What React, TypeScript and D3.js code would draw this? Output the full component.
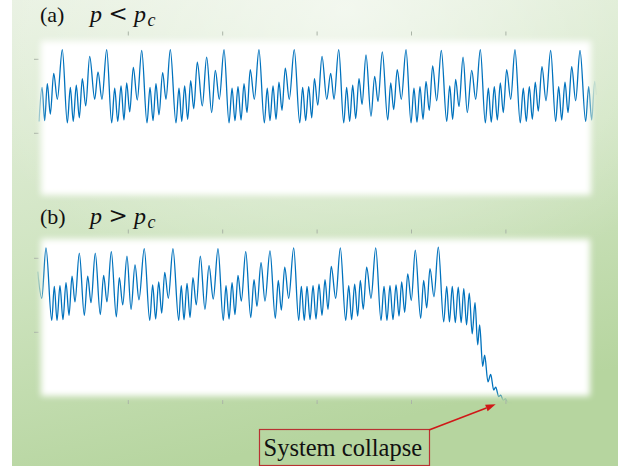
import React from 'react';
import * as d3 from 'd3';

// ---- Panel (a): p < p_c  — extrema ----
const timeA = [
  5.4, 8.6, 11.4, 14.2, 17.4, 21.0, 24.8, 30.1, 35.4, 38.6, 41.7, 44.9, 48.1, 51.3, 54.9, 59.1, 64.4, 67.9, 72.1, 77.1,
  82.4, 85.6, 88.8, 92.3, 95.4, 98.3, 101.5, 105.3, 109.5, 114.2, 119.8, 123.0, 126.2, 129.3, 132.5, 136.4, 139.9, 144.5,
  150.5, 153.7, 156.6, 159.7, 162.9, 166.1, 169.3, 173.1, 178.4, 183.0, 188.3, 192.2, 196.4, 201.4, 206.7, 209.9, 213.0,
  216.2, 219.4, 222.6, 225.7, 229.2, 233.5, 238.4, 244.1, 247.2, 250.1, 253.3, 256.5, 259.6, 262.8, 266.3, 270.5, 275.8,
  281.6, 284.7, 287.9, 291.1, 294.3, 297.2, 300.7, 305.2, 310.2, 314.4, 317.9, 322.9, 328.2, 331.3, 334.5, 337.7, 340.9,
  344.4, 347.6, 351.8, 357.1, 361.0, 364.5, 369.1, 374.8, 378.0, 381.1, 384.9, 389.2, 394.2, 399.5, 402.6, 405.8, 409.0,
  412.2, 415.4, 418.8, 422.4, 426.7, 431.6, 437.3, 440.5, 443.6, 446.8, 450.3, 454.6, 459.1, 463.8, 468.0, 472.9, 478.2,
  481.4, 484.5, 487.7, 490.9, 494.1, 497.2, 500.8, 505.1, 509.6, 515.2, 518.4, 521.6, 524.8, 528.0, 531.1, 534.3, 538.2,
  542.5, 547.4, 552.7, 555.9, 559.1, 562.6, 565.8, 569.7, 573.9, 578.5, 584.5, 587.7, 590.9, 594.1, 596.0,
];
const valueA = [
  0.16, 0.62, 0.17, 0.67, 0.26, 0.81, 0.46, 1.13, 0.14, 0.62, 0.16, 0.65, 0.21, 0.74, 0.37, 1.04, 0.46, 0.83, 0.46, 1.13,
  0.14, 0.61, 0.16, 0.64, 0.18, 0.68, 0.29, 0.89, 0.45, 1.12, 0.14, 0.62, 0.17, 0.67, 0.25, 0.82, 0.46, 1.13,
  0.14, 0.61, 0.16, 0.64, 0.19, 0.71, 0.33, 0.96, 0.37, 1.03, 0.28, 0.85, 0.46, 1.13, 0.14, 0.61, 0.17,
  0.63, 0.18, 0.67, 0.28, 0.86, 0.46, 1.13, 0.14, 0.61, 0.17, 0.64, 0.19, 0.69, 0.31, 0.88, 0.46, 1.13,
  0.14, 0.62, 0.17, 0.63, 0.21, 0.74, 0.38, 1.04, 0.46, 0.81, 0.46, 1.13, 0.14, 0.62, 0.16, 0.65, 0.20,
  0.74, 0.39, 1.06, 0.23, 0.77, 0.43, 1.10, 0.18, 0.68, 0.32, 0.86, 0.46, 1.13, 0.14, 0.61, 0.15, 0.63,
  0.19, 0.70, 0.31, 0.91, 0.44, 1.12, 0.16, 0.64, 0.19, 0.73, 0.36, 1.03, 0.28, 0.85, 0.46, 1.13, 0.14,
  0.61, 0.15, 0.63, 0.18, 0.68, 0.28, 0.86, 0.46, 1.13, 0.14, 0.61, 0.16, 0.63, 0.19, 0.69, 0.30, 0.90,
  0.44, 1.12, 0.16, 0.63, 0.18, 0.69, 0.28, 0.90, 0.44, 1.12, 0.16, 0.63, 0.18, 0.70, 0.52,
];

// ---- Panel (b): p > p_c ----
const timeB = [
  4.0, 8.3, 12.8, 18.9, 21.6, 24.5, 27.6, 30.8, 34.0, 37.2, 40.4, 43.5, 48.1, 53.4, 57.0, 60.5, 65.0, 70.3, 73.9, 77.4,
  82.0, 87.3, 90.5, 94.1, 98.6, 102.9, 107.1, 111.3, 116.9, 122.7, 125.8, 129.0, 132.2, 135.4, 138.6, 142.4, 147.3,
  153.4, 156.1, 159.0, 162.2, 165.4, 168.5, 172.0, 176.3, 181.2, 185.5, 190.0, 195.0, 200.6, 203.5, 206.7, 209.9,
  213.0, 216.2, 219.7, 224.4, 229.7, 233.2, 236.3, 240.6, 244.8, 250.1, 255.7, 258.9, 262.1, 265.7, 269.9, 275.2,
  280.5, 283.3, 286.4, 289.3, 292.5, 295.7, 298.8, 302.0, 305.2, 308.4, 311.5, 315.0, 319.7, 324.6, 330.3, 333.5,
  336.6, 339.8, 343.0, 345.8, 348.9, 352.5, 357.1, 362.1, 367.7, 370.9, 374.0, 377.2, 380.4, 383.6, 386.8, 389.6,
  392.8, 396.0, 399.8, 404.0, 409.7, 412.9, 416.1, 419.6, 423.8, 428.4, 434.1, 437.3, 440.2, 443.2, 446.4, 449.5,
  452.6, 455.4, 458.3, 461.2, 464.3, 467.3, 470.1, 472.2, 475.4, 477.5, 481.0, 483.9, 487.1, 489.2, 492.4, 494.5,
  497.2, 499.4, 502.2, 506.5,
];
const valueB = [
  0.82, 0.46, 1.14, 0.16, 0.62, 0.16, 0.63, 0.17, 0.67, 0.23, 0.76, 0.41, 1.07, 0.23, 0.76, 0.40, 1.07, 0.24, 0.77, 0.41,
  1.09, 0.21, 0.74, 0.37, 1.03, 0.31, 0.91, 0.44, 1.13, 0.16, 0.64, 0.18, 0.68, 0.26, 0.81, 0.46, 1.13,
  0.16, 0.63, 0.17, 0.66, 0.20, 0.74, 0.37, 1.03, 0.31, 0.90, 0.45, 1.13, 0.16, 0.63, 0.18, 0.67,
  0.24, 0.77, 0.42, 1.09, 0.20, 0.71, 0.35, 0.94, 0.42, 1.10, 0.19, 0.70, 0.30, 0.88, 0.46, 1.14,
  0.16, 0.62, 0.16, 0.62, 0.17, 0.63, 0.18, 0.65, 0.23, 0.71, 0.31, 0.89, 0.46, 1.14, 0.16, 0.63,
  0.17, 0.65, 0.22, 0.70, 0.31, 0.88, 0.46, 1.14, 0.16, 0.62, 0.16, 0.63, 0.17, 0.64, 0.22, 0.68,
  0.27, 0.79, 0.43, 1.11, 0.19, 0.70, 0.33, 0.86, 0.48, 1.15, 0.14, 0.62, 0.14, 0.62, 0.13, 0.61,
  0.13, 0.59, 0.10, 0.53, -0.02, 0.40, -0.17, 0.10, -0.46, -0.31, -0.67, -0.57, -0.78, -0.74, -0.87, -0.85,
  -0.92, -0.90, -0.95, -0.96,
];

const xTicks = [100, 200, 300, 400, 500];
const yTicks = [0, 1];
const titleA = { label: '(a)', rel: '<' };
const titleB = { label: '(b)', rel: '>' };
const annotation = 'System collapse';

const W = 618;
const H = 466;

export default function App() {
  const x = d3.scaleLinear().domain([0, 600]).range([33.9, 600.3]);
  const yA = d3.scaleLinear().domain([0, 1]).range([133.3, 59.3]);
  const yB = d3.scaleLinear().domain([0, 1]).range([332.3, 258.3]);

  const lineA = d3
    .line<number>()
    .x((_, i) => x(timeA[i]))
    .y((d) => yA(d))
    .curve(d3.curveMonotoneX)(valueA) as string;
  const lineB = d3
    .line<number>()
    .x((_, i) => x(timeB[i]))
    .y((d) => yB(d))
    .curve(d3.curveMonotoneX)(valueB) as string;

  const tickColor = '#a9b3a6';
  const serif = '"Liberation Serif", "Times New Roman", serif';

  const title = (t: { label: string; rel: string }, base: number) => (
    <g fill="#111" fontFamily={serif}>
      <text x={40} y={base} fontSize={22}>{t.label}</text>
      <text x={90} y={base} fontSize={24} fontStyle="italic">p</text>
      <text x={108.5} y={base - 0.5} fontSize={23} fontFamily='"DejaVu Serif", serif'>{t.rel}</text>
      <text x={134} y={base} fontSize={24} fontStyle="italic">p</text>
      <text x={147.5} y={base + 4} fontSize={18} fontStyle="italic">c</text>
    </g>
  );

  const arrowStart = { x: 429, y: 430 };
  const arrowEnd = { x: x(timeB[timeB.length - 7]), y: yB(valueB[valueB.length - 1]) + 1 };
  const ang = Math.atan2(arrowEnd.y - arrowStart.y, arrowEnd.x - arrowStart.x);
  const hl = 10;
  const hw = 3.5;
  const bx = arrowEnd.x - hl * Math.cos(ang);
  const by = arrowEnd.y - hl * Math.sin(ang);
  const head = `M${arrowEnd.x},${arrowEnd.y} L${bx + hw * Math.sin(ang)},${by - hw * Math.cos(ang)} L${bx - hw * Math.sin(ang)},${by + hw * Math.cos(ang)} Z`;

  return (
    <svg width={W} height={H} style={{ position: 'absolute', left: 0, top: 0, display: 'block' }}>
      <defs>
        <linearGradient id="bgLin" x1="0" y1="0" x2="0.3" y2="1">
          <stop offset="0" stopColor="#e8f1e1" />
          <stop offset="0.5" stopColor="#d1e5c3" />
          <stop offset="1" stopColor="#b6d59f" />
        </linearGradient>
        <radialGradient id="bgRad" cx="0.55" cy="0.02" r="0.65">
          <stop offset="0" stopColor="#ffffff" stopOpacity="0.6" />
          <stop offset="1" stopColor="#ffffff" stopOpacity="0" />
        </radialGradient>
        <filter id="soft" x="-10%" y="-20%" width="120%" height="140%">
          <feGaussianBlur stdDeviation="3.2" />
        </filter>
        <mask id="maskA" maskUnits="userSpaceOnUse" x="0" y="0" width={W} height={H}>
          <rect x={41} y={41} width={550} height={154} fill="#fff" filter="url(#soft)" />
        </mask>
        <mask id="maskB" maskUnits="userSpaceOnUse" x="0" y="0" width={W} height={H}>
          <rect x={41} y={239} width={549} height={157} fill="#fff" filter="url(#soft)" />
        </mask>
      </defs>

      <rect x={0} y={0} width={W} height={H} fill="#ffffff" />
      <rect x={12} y={0} width={W - 12} height={H} fill="url(#bgLin)" />
      <rect x={12} y={0} width={W - 12} height={H} fill="url(#bgRad)" />

      {/* ticks of the hidden axes */}
      <g stroke={tickColor} strokeWidth={1}>
        {xTicks.map((t) => (
          <line key={'at' + t} x1={x(t)} x2={x(t)} y1={31.5} y2={35.5} />
        ))}
        {xTicks.map((t) => (
          <line key={'bt' + t} x1={x(t)} x2={x(t)} y1={229.5} y2={233.5} />
        ))}
        {xTicks.map((t) => (
          <line key={'bb' + t} x1={x(t)} x2={x(t)} y1={400} y2={404} />
        ))}
        {yTicks.map((v) => (
          <line key={'al' + v} x1={34} x2={38.5} y1={yA(v)} y2={yA(v)} />
        ))}
        {yTicks.map((v) => (
          <line key={'bl' + v} x1={34} x2={38.5} y1={yB(v)} y2={yB(v)} />
        ))}
      </g>

      <g mask="url(#maskA)">
        <rect x={20} y={20} width={590} height={195} fill="#ffffff" />
        <path d={lineA} fill="none" stroke="#0072BD" strokeWidth={1.3} />
      </g>
      <g mask="url(#maskB)">
        <rect x={20} y={220} width={590} height={196} fill="#ffffff" />
        <path d={lineB} fill="none" stroke="#0072BD" strokeWidth={1.3} />
      </g>

      {title(titleA, 21.5)}
      {title(titleB, 223.5)}

      <rect x={259.5} y={429.5} width={170} height={36} fill="none" stroke="#b83232" strokeWidth={1.2} />
      <text x={263.5} y={456} fontSize={24.5} fontFamily={serif} fill="#111">{annotation}</text>
      <line x1={arrowStart.x} y1={arrowStart.y} x2={bx} y2={by} stroke="#d01818" strokeWidth={1.6} />
      <path d={head} fill="#d01818" />
    </svg>
  );
}
